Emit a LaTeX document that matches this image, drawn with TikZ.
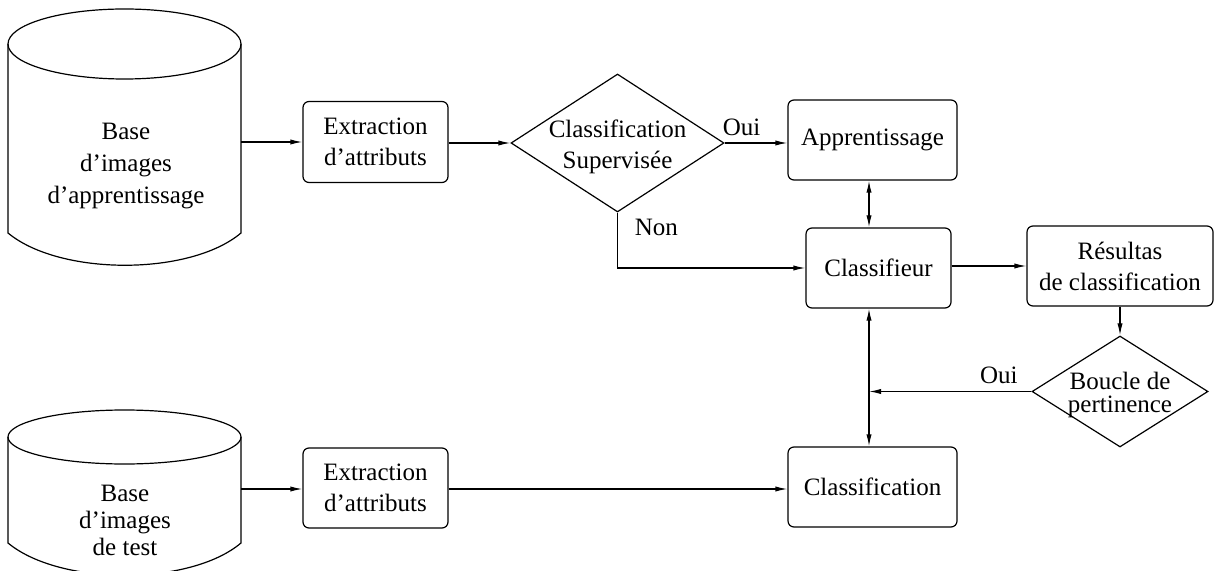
\documentclass[tikz,border=0pt]{standalone}
\usepackage{fontspec}
\setmainfont{Liberation Serif}
\usetikzlibrary{shapes.geometric,arrows.meta}

\begin{document}
\begin{tikzpicture}[x=0.5pt,y=-0.5pt,
    font=\fontsize{12.5}{15.5}\selectfont,
    line width=0.6pt,
    box/.style={draw,rounded corners=3pt,align=center,inner sep=2pt},
    decision/.style={draw,diamond,inner sep=0pt},
    arr/.style={-{Latex[length=6pt,width=2.6pt]}},
    darr/.style={{Latex[length=6pt,width=2.6pt]}-{Latex[length=6pt,width=2.6pt]}}]
\useasboundingbox (0,0) rectangle (1214,571);

% bases d'images
\draw (8,44) -- (8,233) .. controls (60,276) and (190,276) .. (241,233) -- (241,44);
\draw (124.5,44) ellipse [x radius=116.5, y radius=35];
\node[align=center,font=\fontsize{12.5}{16}\selectfont] (baseA) at (126,166) {Base\\d'images\\d'apprentissage};
\draw (8,437) -- (8,543) .. controls (60,586) and (190,586) .. (241,543) -- (241,437);
\draw (124.5,437) ellipse [x radius=116.5, y radius=27];
\node[align=center,font=\fontsize{12.5}{13.5}\selectfont] (baseT) at (125,520) {Base\\d'images\\de test};
\coordinate (baseAout) at (241,142);
\coordinate (baseTout) at (241,489);
\coordinate (axis) at (869,0);

% blocs
\node[box,minimum width=72.5pt,minimum height=40.5pt] (extrA) at (375.5,142) {Extraction\\d'attributs};
\node[decision,minimum width=106.5pt,minimum height=69pt,
      label={[align=center,yshift=-2pt]center:Classification\\Supervisée}] (superv) at (617.5,143) {};
\node[box,minimum width=84.5pt,minimum height=40pt] (appr) at (872.5,140) {Apprentissage};
\node[box,minimum width=72.5pt,minimum height=40pt] (clsf) at (878.5,268) {Classifieur};
\node[box,minimum width=93pt,minimum height=40pt] (res) at (1120,266) {Résultas\\de classification};
\node[decision,minimum width=88pt,minimum height=55.5pt,
      label={[align=center,yshift=-1.5pt,font=\fontsize{12.5}{11.5}\selectfont]center:Boucle de\\pertinence}] (boucle) at (1120,391.5) {};
\node[box,minimum width=84.5pt,minimum height=40pt] (classif) at (872.5,487) {Classification};
\node[box,minimum width=72.5pt,minimum height=40pt] (extrT) at (375.5,488) {Extraction\\d'attributs};

% liaisons
\draw[arr] (baseAout) -- (baseAout -| extrA.west);
\draw[arr] (superv.west -| extrA.east) -- (superv.west);
\draw[arr] (superv.east) -- (superv.east -| appr.west) node[pos=0.27,above] {Oui};
\draw[arr] (superv.south) |- (clsf.west) node[pos=0.13,right=5pt] {Non};
\draw[darr] (appr.south -| axis) -- (clsf.north -| axis);
\draw[arr] (res.west -| clsf.east) -- (res.west);
\draw[arr] (res.south) -- (boucle.north);
\draw[arr] (boucle.west) -- (boucle.west -| axis) node[pos=0.2,above] {Oui};
\draw[darr] (clsf.south -| axis) -- (classif.north -| axis);
\draw[arr] (baseTout) -- (baseTout -| extrT.west);
\draw[arr] (baseTout -| extrT.east) -- (baseTout -| classif.west);
\end{tikzpicture}
\end{document}
